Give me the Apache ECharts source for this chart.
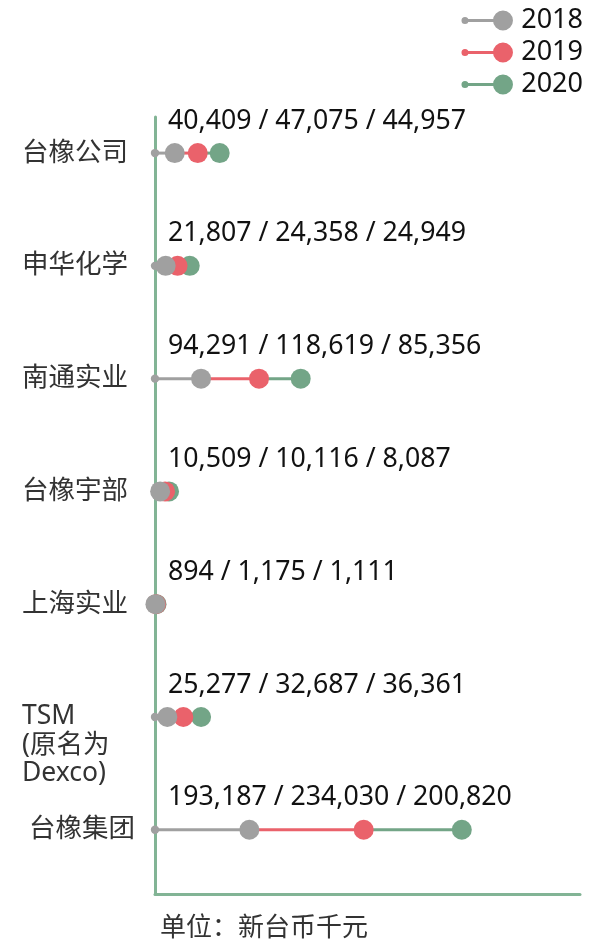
<!DOCTYPE html>
<html>
<head>
<meta charset="utf-8">
<script src="https://cdn.jsdelivr.net/npm/echarts@6/dist/echarts.min.js"></script>
<style>
html, body { margin: 0; padding: 0; background: #fff; }
#main { width: 593px; height: 945px; }
</style>
</head>
<body>
<div id="main"></div>
<script>
// 数据
var companies = ['台橡公司', '申华化学', '南通实业', '台橡宇部', '上海实业', 'TSM\n(原名为\nDexco)', ' 台橡集团'];
var years = ['2018', '2019', '2020'];
var v2018 = [40409, 21807, 94291, 10509, 894, 25277, 193187];
var v2019 = [47075, 24358, 118619, 10116, 1175, 32687, 234030];
var v2020 = [44957, 24949, 85356, 8087, 1111, 36361, 200820];
var unitText = '单位：新台币千元';

var colors = ['#a0a0a0', '#ea626b', '#73a587'];
var axisColor = '#82b495';
var font = "'Noto Sans', 'Noto Sans CJK SC', sans-serif";

// 累加成线段 [起点, 终点, 行]
var rows = [], seg2018 = [], seg2019 = [], seg2020 = [], labelData = [], labelText = [];
for (var i = 0; i < companies.length; i++) {
    var a = v2018[i], b = a + v2019[i], c = b + v2020[i];
    rows.push(i);
    seg2018.push([0, a, i]);
    seg2019.push([a, b, i]);
    seg2020.push([b, c, i]);
    labelData.push([0, i]);
    labelText.push(v2018[i].toLocaleString('en-US') + ' / ' + v2019[i].toLocaleString('en-US') + ' / ' + v2020[i].toLocaleString('en-US'));
}

function makeRender(color, withStart) {
    return function (params, api) {
        var p0 = api.coord([api.value(0), api.value(2)]);
        var p1 = api.coord([api.value(1), api.value(2)]);
        var children = [{
            type: 'line',
            shape: { x1: p0[0], y1: p0[1], x2: p1[0], y2: p1[1] },
            style: { stroke: color, lineWidth: 3 }
        }];
        if (withStart) {
            children.push({ type: 'circle', shape: { cx: p0[0], cy: p0[1], r: 4.2 }, style: { fill: color } });
        }
        children.push({ type: 'circle', shape: { cx: p1[0], cy: p1[1], r: 10 }, style: { fill: color } });
        return { type: 'group', children: children };
    };
}

// 图例图标: 小圆点 + 线 + 大圆点
var legendIcon = 'path://M0.5,10a3.5,3.5 0 1,1 7,0a3.5,3.5 0 1,1 -7,0Z' +
    'M4,8.5H42V11.5H4Z' +
    'M32,10a10,10 0 1,1 20,0a10,10 0 1,1 -20,0Z';

var myChart = echarts.init(document.getElementById('main'));
var option = {
    animation: false,
    title: {
        text: unitText,
        left: 160,
        top: 916,
        padding: 0,
        textStyle: { fontSize: 26, fontWeight: 'normal', color: '#333', fontFamily: font }
    },
    legend: {
        data: years,
        orient: 'vertical',
        right: 5,
        top: 2,
        itemWidth: 52,
        itemHeight: 20,
        itemGap: 5,
        icon: legendIcon,
        textStyle: { fontSize: 27, color: '#111', fontFamily: font, padding: [0, 0, 0, 3] }
    },
    grid: { left: 155, right: 13, top: 117, bottom: 51 },
    xAxis: {
        type: 'value',
        min: 0,
        max: 870000,
        axisLine: { show: true, onZero: false, lineStyle: { color: axisColor, width: 3 } },
        axisTick: { show: false },
        axisLabel: { show: false },
        splitLine: { show: false }
    },
    yAxis: {
        type: 'value',
        inverse: true,
        min: -0.32,
        max: 6.57,
        axisLine: { show: true, onZero: false, lineStyle: { color: axisColor, width: 3 } },
        axisTick: { show: false },
        splitLine: { show: false },
        axisLabel: {
            customValues: rows,
            formatter: function (v) {
                var name = companies[Math.round(v)] || '';
                var n = name.split('\n').length;
                // 多行标签首行对齐到该行
                return new Array(n).join('\n') + name;
            },
            align: 'left',
            margin: 133,
            fontSize: 26.5,
            lineHeight: 28.5,
            color: '#333',
            fontFamily: font
        }
    },
    series: [
        {
            name: '2020', type: 'custom', z: 3, clip: false,
            itemStyle: { color: colors[2] },
            encode: { x: [0, 1], y: 2 },
            data: seg2020,
            renderItem: makeRender(colors[2], false)
        },
        {
            name: '2019', type: 'custom', z: 4, clip: false,
            itemStyle: { color: colors[1] },
            encode: { x: [0, 1], y: 2 },
            data: seg2019,
            renderItem: makeRender(colors[1], false)
        },
        {
            name: '2018', type: 'custom', z: 5, clip: false,
            itemStyle: { color: colors[0] },
            encode: { x: [0, 1], y: 2 },
            data: seg2018,
            renderItem: makeRender(colors[0], true)
        },
        {
            type: 'custom', z: 6, silent: true, clip: false,
            encode: { x: 0, y: 1 },
            data: labelData,
            renderItem: function (params, api) {
                var p = api.coord([api.value(0), api.value(1)]);
                return {
                    type: 'text',
                    x: p[0] + 13,
                    y: p[1] - 32,
                    style: {
                        text: labelText[params.dataIndex],
                        fill: '#111',
                        font: '26.7px ' + font,
                        verticalAlign: 'middle'
                    }
                };
            }
        }
    ]
};
myChart.setOption(option);
</script>
</body>
</html>
